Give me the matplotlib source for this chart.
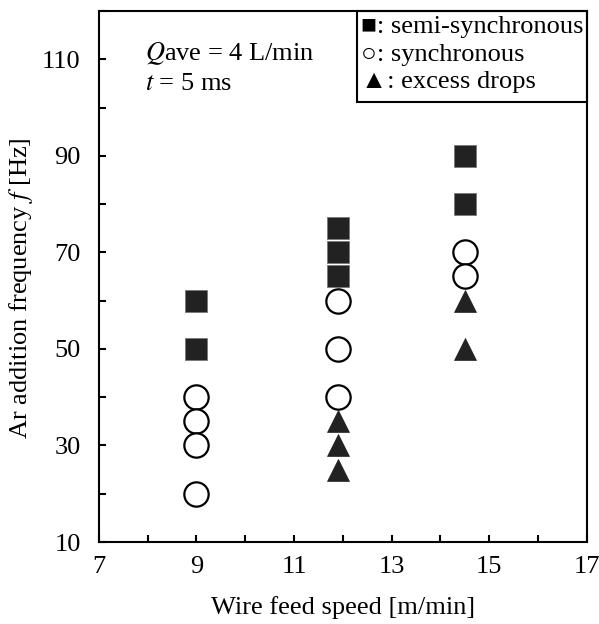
import matplotlib
matplotlib.use("Agg")
import matplotlib.pyplot as plt
from matplotlib.patches import Rectangle

plt.rcParams.update({
    "font.family": ["Liberation Serif", "DejaVu Serif"],
    "mathtext.fontset": "stix",
    "font.size": 19,
    "xtick.direction": "in", "ytick.direction": "in",
    "axes.linewidth": 1.5,
})

# wire feed speed [m/min] for each column of measurements
semi_x = [9, 9, 11.9, 11.9, 11.9, 14.5, 14.5]
semi_f = [60, 50, 75, 70, 65, 90, 80]
sync_x = [9, 9, 9, 9, 11.9, 11.9, 11.9, 14.5, 14.5]
sync_f = [40, 35, 30, 20, 60, 50, 40, 70, 65]
excess_x = [11.9, 11.9, 11.9, 14.5, 14.5]
excess_f = [35, 30, 25, 60, 50]

x_ticks = list(range(7, 18))
x_labels = [str(v) if v % 2 else "" for v in x_ticks]
y_ticks = list(range(10, 121, 10))
y_labels = [str(v) if v % 20 == 10 and v <= 110 else "" for v in y_ticks]

fig = plt.figure(figsize=(5.99, 6.24), dpi=100)
ax = fig.add_axes([0.165, 0.1314, 0.8145, 0.851])

ax.plot(semi_x, semi_f, "s", ms=16.5, mfc="#222222", mec="#777777", mew=0.6, ls="none")
ax.plot(sync_x, sync_f, "o", ms=17.5, mfc="white", mec="black", mew=1.6, ls="none")
ax.plot(excess_x, excess_f, "^", ms=16, mfc="#222222", mec="#222222", mew=0.5, ls="none")

ax.set_xlim(7, 17)
ax.set_ylim(10, 120)
ax.set_xticks(x_ticks)
ax.set_xticklabels(x_labels)
ax.set_yticks(y_ticks)
ax.set_yticklabels(y_labels)
ax.tick_params(length=5, width=1.5, pad=10)
ax.tick_params(axis="y", pad=13)

ax.set_xlabel("Wire feed speed [m/min]", labelpad=13)
ax.set_ylabel("Ar addition frequency $f$ [Hz]")
ax.yaxis.set_label_coords(-0.131, 0.478)

# condition annotation
ax.text(0.095, 0.92, "$Q$ave = 4 L/min", transform=ax.transAxes, va="center")
ax.text(0.095, 0.862, "$t$ = 5 ms", transform=ax.transAxes, va="center")

# boxed key in the upper right
ax.add_patch(Rectangle((0.529, 0.829), 0.471, 0.171, transform=ax.transAxes,
                       fill=False, ec="black", lw=1.5, clip_on=False))
key = ["\u25a0: semi-synchronous", "\u25cb: synchronous", "\u25b2: excess drops"]
for i, s in enumerate(key):
    ax.text(0.537, 0.970 - i * 0.052, s, transform=ax.transAxes, va="center")

fig.savefig("out.png", dpi=100)
